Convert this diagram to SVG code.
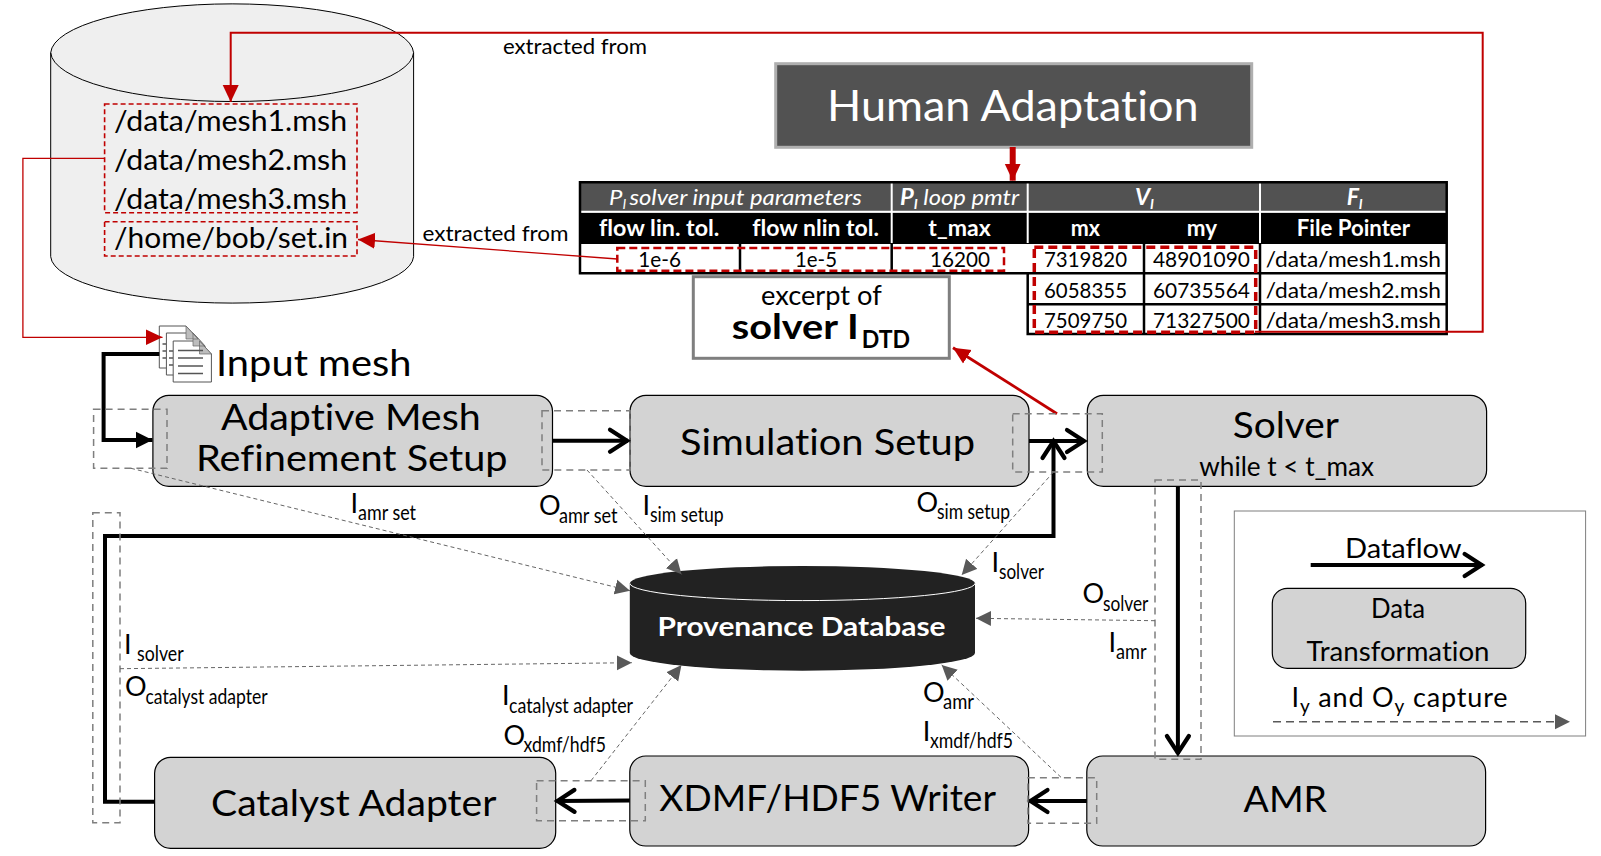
<svg xmlns="http://www.w3.org/2000/svg" width="1601" height="856" viewBox="0 0 1601 856">
<style>
text{font-family:"Lato","Liberation Sans",sans-serif;fill:#000;font-variant-ligatures:none}
.w{fill:#fff}
.b{font-weight:700}
.i{font-style:italic}
.node{fill:#d3d3d3;stroke:#000;stroke-width:1.2}
.cap{fill:none;stroke:#7f7f7f;stroke-width:1.5;stroke-dasharray:7 5}
.red{fill:none;stroke:#c00000}
.flow{fill:none;stroke:#000;stroke-width:4}
.prov{fill:none;stroke:#666;stroke-width:1;stroke-dasharray:4 3}
.hd{fill:none;stroke:#000;stroke-width:2.5}
.wl{stroke:#fff;stroke-width:2;fill:none}
.s{font-size:21px}
.o{font-size:27px}
.m{font-size:28px}
.l{font-size:36px}
.t{font-size:22px}
.page{fill:#fff;stroke:#555;stroke-width:1}
</style>
<defs>
<marker id="ah" markerUnits="userSpaceOnUse" markerWidth="16" markerHeight="16" refX="15" refY="8" orient="auto"><path d="M0 0.5L15 8L0 15.500Z" fill="#595959"/></marker>
<marker id="ar" markerUnits="userSpaceOnUse" markerWidth="18" markerHeight="18" refX="17" refY="9" orient="auto"><path d="M0 1L17 9L0 17Z" fill="#c00000"/></marker>
<marker id="ak" markerUnits="userSpaceOnUse" markerWidth="20" markerHeight="20" refX="17" refY="10" orient="auto"><path d="M0 1.500L17 10L0 18.500Z" fill="#000"/></marker>
<marker id="ao" markerUnits="userSpaceOnUse" markerWidth="26" markerHeight="30" refX="21" refY="15" orient="auto"><path d="M3 4L20 15L3 26" fill="none" stroke="#000" stroke-width="4.200" stroke-linecap="round"/></marker>
</defs>

<g id="file-store">
<path d="M50.700 52.700A181.500 50 0 0 1 413.600 52.700V256.700A181.500 47.500 0 0 1 50.700 256.700Z" fill="#efefef" stroke="#000" stroke-width="1"/>
<path d="M50.700 52.700A181.500 50 0 0 0 413.600 52.700" fill="none" stroke="#000" stroke-width="1"/>
<rect x="104.600" y="104" width="252.400" height="108.700" fill="none" stroke="#c00000" stroke-width="1.600" stroke-dasharray="5 3"/>
<rect x="104.600" y="221.700" width="252.400" height="34.300" fill="none" stroke="#c00000" stroke-width="1.600" stroke-dasharray="5 3"/>
<text class="m" x="114" y="131" textLength="233" lengthAdjust="spacingAndGlyphs">/data/mesh1.msh</text>
<text class="m" x="114" y="170" textLength="233" lengthAdjust="spacingAndGlyphs">/data/mesh2.msh</text>
<text class="m" x="114" y="209" textLength="233" lengthAdjust="spacingAndGlyphs">/data/mesh3.msh</text>
<text class="m" x="114" y="248" textLength="234" lengthAdjust="spacingAndGlyphs">/home/bob/set.in</text>
</g>

<g id="input-mesh">
<path class="page" d="M159.300 326H186L198 339V368H159.300Z"/>
<path class="page" d="M166.400 333H193L205 346V375H166.400Z"/>
<path class="page" d="M173.200 341H199.500L211.400 354V382H173.200Z"/>
<path d="M186 326L198 339H186ZM193 333L205 346H193ZM199.500 341L211.400 354H199.500Z" fill="#bdbdbd" stroke="#666" stroke-width=".7"/>
<path d="M178 350.500H203M178 358H203M178 366H203M178 373.500H203M162.500 344H166M162.500 351H166M162.500 358H166M169 351H173M169 358H173M169 365H173" stroke="#555" stroke-width="1.300" fill="none"/>
<text class="l" x="216" y="375.500" textLength="195.400" lengthAdjust="spacingAndGlyphs">Input mesh</text>
</g>

<g id="human-adaptation">
<rect x="775.700" y="63.700" width="476" height="83.600" fill="#525252" stroke="#afafaf" stroke-width="3"/>
<text class="w" style="font-size:43px" x="827" y="120.500" textLength="371.600" lengthAdjust="spacingAndGlyphs">Human Adaptation</text>
</g>

<g id="solver-table">
<rect x="580" y="182.300" width="866.700" height="29" fill="#525252"/>
<rect x="580" y="212.500" width="866.700" height="31.500" fill="#000"/>
<path class="wl" d="M580 211.800H1446.700M891.700 183V243M1027.700 183V243M1260 183V243"/>
<path class="hd" d="M580 182.300H1446.700V334H1027.700V273.300H580ZM740 244V273.300M891.700 244V273.300M1144 244V334M1260 244V334M1027.700 273.300H1446.700M1027.700 304.300H1446.700"/>
<text class="w i t" x="609" y="205" textLength="252.700" lengthAdjust="spacingAndGlyphs">P<tspan dy="4" font-size="13">I </tspan><tspan dy="-4">solver input parameters</tspan></text>
<text class="w i t" x="900" y="205" textLength="119" lengthAdjust="spacingAndGlyphs"><tspan class="b">P</tspan><tspan dy="4" font-size="13" class="b">I</tspan><tspan dy="-4"> loop pmtr</tspan></text>
<text class="w i b t" x="1135" y="205" textLength="19" lengthAdjust="spacingAndGlyphs">V<tspan dy="4" font-size="13">I</tspan></text>
<text class="w i b t" x="1346.700" y="205" textLength="16" lengthAdjust="spacingAndGlyphs">F<tspan dy="4" font-size="13">I</tspan></text>
<text class="w b t" x="599" y="235.700" textLength="120.300" lengthAdjust="spacingAndGlyphs">flow lin. tol.</text>
<text class="w b t" x="752.300" y="235.700" textLength="126.700" lengthAdjust="spacingAndGlyphs">flow nlin tol.</text>
<text class="w b t" x="928.300" y="235.700" textLength="62.400" lengthAdjust="spacingAndGlyphs">t_max</text>
<text class="w b t" x="1070.700" y="235.700" textLength="29.300" lengthAdjust="spacingAndGlyphs">mx</text>
<text class="w b t" x="1186.700" y="235.700" textLength="30.300" lengthAdjust="spacingAndGlyphs">my</text>
<text class="w b t" x="1296.700" y="235.700" textLength="113.300" lengthAdjust="spacingAndGlyphs">File Pointer</text>
<text class="t" x="638.300" y="266.700" textLength="42.700" lengthAdjust="spacingAndGlyphs">1e-6</text>
<text class="t" x="795" y="266.700" textLength="42" lengthAdjust="spacingAndGlyphs">1e-5</text>
<text class="t" x="930" y="266.700" textLength="60" lengthAdjust="spacingAndGlyphs">16200</text>
<text class="t" x="1044" y="266.700" textLength="83" lengthAdjust="spacingAndGlyphs">7319820</text>
<text class="t" x="1153" y="266.700" textLength="97" lengthAdjust="spacingAndGlyphs">48901090</text>
<text class="t" x="1265.700" y="266.700" textLength="175.300" lengthAdjust="spacingAndGlyphs">/data/mesh1.msh</text>
<text class="t" x="1044" y="297.700" textLength="83" lengthAdjust="spacingAndGlyphs">6058355</text>
<text class="t" x="1153" y="297.700" textLength="97" lengthAdjust="spacingAndGlyphs">60735564</text>
<text class="t" x="1265.700" y="297.700" textLength="175.300" lengthAdjust="spacingAndGlyphs">/data/mesh2.msh</text>
<text class="t" x="1044" y="327.700" textLength="83" lengthAdjust="spacingAndGlyphs">7509750</text>
<text class="t" x="1153" y="327.700" textLength="97" lengthAdjust="spacingAndGlyphs">71327500</text>
<text class="t" x="1265.700" y="327.700" textLength="175.300" lengthAdjust="spacingAndGlyphs">/data/mesh3.msh</text>
<rect x="617.300" y="248" width="386.700" height="22.700" fill="none" stroke="#c00000" stroke-width="2.500" stroke-dasharray="8 4"/>
<rect x="1034.300" y="247.300" width="221.400" height="85" fill="none" stroke="#c00000" stroke-width="3.500" stroke-dasharray="9 5"/>
</g>

<g id="excerpt">
<rect x="693.300" y="276.700" width="256" height="81.600" fill="#fff" stroke="#7f7f7f" stroke-width="3"/>
<text style="font-size:26px" x="761" y="304.500" textLength="120.700" lengthAdjust="spacingAndGlyphs">excerpt of</text>
<text class="b" style="font-size:35px" x="731.700" y="338.500" textLength="127" lengthAdjust="spacingAndGlyphs">solver I</text>
<text class="b" style="font-size:25px" x="861.700" y="348" textLength="48.300" lengthAdjust="spacingAndGlyphs">DTD</text>
</g>

<g id="amr-setup">
<rect class="node" x="152.900" y="395.300" width="399.600" height="91" rx="16"/>
<text class="l" x="221" y="430" textLength="259.700" lengthAdjust="spacingAndGlyphs">Adaptive Mesh</text>
<text class="l" x="196" y="471" textLength="311.500" lengthAdjust="spacingAndGlyphs">Refinement Setup</text>
</g>
<g id="simulation-setup">
<rect class="node" x="630" y="395.300" width="399" height="91" rx="16"/>
<text class="l" x="680" y="454.500" textLength="295" lengthAdjust="spacingAndGlyphs">Simulation Setup</text>
</g>
<g id="solver">
<rect class="node" x="1087.300" y="395.300" width="399.300" height="91" rx="16"/>
<text class="l" x="1232.700" y="437.700" textLength="106.300" lengthAdjust="spacingAndGlyphs">Solver</text>
<text style="font-size:26px" x="1199.300" y="476" textLength="174.700" lengthAdjust="spacingAndGlyphs">while t &lt; t_max</text>
</g>
<g id="catalyst-adapter">
<rect class="node" x="154.600" y="757.300" width="401.100" height="91" rx="16"/>
<text class="l" x="211" y="816" textLength="285.400" lengthAdjust="spacingAndGlyphs">Catalyst Adapter</text>
</g>
<g id="xdmf-writer">
<rect class="node" x="629.800" y="756" width="398.800" height="90" rx="16"/>
<text class="l" x="659.300" y="811" textLength="336.700" lengthAdjust="spacingAndGlyphs">XDMF/HDF5 Writer</text>
</g>
<g id="amr">
<rect class="node" x="1086.800" y="756" width="398.800" height="90" rx="16"/>
<text class="l" x="1243.600" y="812" textLength="83.400" lengthAdjust="spacingAndGlyphs">AMR</text>
</g>

<g id="provenance-db">
<path d="M629.800 583.300A172.600 17.300 0 0 1 975 583.300V653A172.600 17.700 0 0 1 629.800 653Z" fill="#222"/>
<path d="M629.800 583.300A172.600 17.300 0 0 0 975 583.300" fill="none" stroke="#fff" stroke-width="1"/>
<text class="w b" style="font-size:27px" x="657.400" y="636" textLength="288.200" lengthAdjust="spacingAndGlyphs">Provenance Database</text>
</g>

<g id="connectors">
<path class="red" stroke-width="2" d="M1255 331.700H1482.700V32.700H230.700V102" marker-end="url(#ar)"/>
<path class="red" stroke-width="1.300" d="M617.300 259L358 239.500" marker-end="url(#ar)"/>
<path class="red" stroke-width="1.300" d="M104.600 158.300H22.900V337.300H162.500" marker-end="url(#ar)"/>
<path class="red" stroke-width="6" d="M1012.700 147V180.700" marker-end="url(#ar)"/>
<path class="red" stroke-width="2.800" d="M1057 413.700L953 347.700" marker-end="url(#ar)"/>

<path class="flow" d="M159.300 354H103.600V440H152.500" marker-end="url(#ak)"/>
<path class="flow" d="M552.500 440.700H628" marker-end="url(#ao)"/>
<path class="flow" d="M1029 441H1085" marker-end="url(#ao)"/>
<path class="flow" d="M154.600 801.700H105V536H1053.500V440" marker-end="url(#ao)"/>
<path class="flow" d="M1177.900 486.300V754" marker-end="url(#ao)"/>
<path class="flow" d="M1086.800 801H1029.500" marker-end="url(#ao)"/>
<path class="flow" d="M629.800 800.500L556.500 801" marker-end="url(#ao)"/>

<rect class="cap" x="93.600" y="409.300" width="73.400" height="59"/>
<rect class="cap" x="542" y="410.700" width="88" height="59.300"/>
<rect class="cap" x="1012.700" y="413.700" width="89.600" height="58.300"/>
<rect class="cap" x="92.800" y="512.700" width="27.200" height="310"/>
<rect class="cap" x="1155" y="480" width="46" height="279.300"/>
<rect class="cap" x="1027.900" y="777.700" width="68.800" height="45.600"/>
<rect class="cap" x="536.600" y="780.700" width="108.700" height="40"/>

<path class="prov" d="M131 468.300L630 590.700" marker-end="url(#ah)"/>
<path class="prov" d="M587 470L681.500 574.300" marker-end="url(#ah)"/>
<path class="prov" d="M1053.500 472L961.700 575" marker-end="url(#ah)"/>
<path class="prov" d="M1155 620.700L976 618.300" marker-end="url(#ah)"/>
<path class="prov" d="M1061 777.300L941.700 665" marker-end="url(#ah)"/>
<path class="prov" d="M591 780.700L681.500 665" marker-end="url(#ah)"/>
<path class="prov" d="M120 668.700L631.800 662.700" marker-end="url(#ah)"/>
</g>

<g id="labels">
<text class="s" x="503" y="54" textLength="144" lengthAdjust="spacingAndGlyphs">extracted from</text>
<text class="s" x="422.500" y="241" textLength="146" lengthAdjust="spacingAndGlyphs">extracted from</text>
<text class="o" x="350.500" y="512.700">I</text><text class="s" x="358" y="520" textLength="58" lengthAdjust="spacingAndGlyphs">amr set</text>
<text class="o" x="539" y="515">O</text><text class="s" x="559" y="522.700" textLength="58.500" lengthAdjust="spacingAndGlyphs">amr set</text>
<text class="o" x="642.500" y="515">I</text><text class="s" x="650" y="522" textLength="73.600" lengthAdjust="spacingAndGlyphs">sim setup</text>
<text class="o" x="916.500" y="511.700">O</text><text class="s" x="937" y="519" textLength="73" lengthAdjust="spacingAndGlyphs">sim setup</text>
<text class="o" x="991.500" y="571.700">I</text><text class="s" x="999" y="578.700" textLength="45" lengthAdjust="spacingAndGlyphs">solver</text>
<text class="o" x="1082.500" y="603.300">O</text><text class="s" x="1103" y="611" textLength="45.400" lengthAdjust="spacingAndGlyphs">solver</text>
<text class="o" x="1108.500" y="651.700">I</text><text class="s" x="1116" y="659" textLength="30.500" lengthAdjust="spacingAndGlyphs">amr</text>
<text class="o" x="923" y="702.300">O</text><text class="s" x="943" y="709.300" textLength="31" lengthAdjust="spacingAndGlyphs">amr</text>
<text class="o" x="922.800" y="740.700">I</text><text class="s" x="930" y="748.300" textLength="83" lengthAdjust="spacingAndGlyphs">xmdf/hdf5</text>
<text class="o" x="124" y="654">I</text><text class="s" x="137" y="660.700" textLength="46.600" lengthAdjust="spacingAndGlyphs">solver</text>
<text class="o" x="125" y="696">O</text><text class="s" x="145.500" y="704" textLength="122" lengthAdjust="spacingAndGlyphs">catalyst adapter</text>
<text class="o" x="502" y="705">I</text><text class="s" x="509" y="712.700" textLength="124" lengthAdjust="spacingAndGlyphs">catalyst adapter</text>
<text class="o" x="503.500" y="745">O</text><text class="s" x="523.500" y="751.700" textLength="82.500" lengthAdjust="spacingAndGlyphs">xdmf/hdf5</text>
</g>

<g id="legend">
<rect x="1234.300" y="511" width="351.300" height="225" fill="none" stroke="#7f7f7f" stroke-width="1"/>
<text class="o" x="1345" y="558.300" textLength="116.700" lengthAdjust="spacingAndGlyphs">Dataflow</text>
<path class="flow" d="M1310.700 565H1482.700" marker-end="url(#ao)"/>
<rect class="node" x="1272.300" y="588.300" width="253.400" height="80" rx="15"/>
<text class="o" x="1371" y="618" textLength="54" lengthAdjust="spacingAndGlyphs">Data</text>
<text class="o" x="1306.500" y="660.500" textLength="183" lengthAdjust="spacingAndGlyphs">Transformation</text>
<text class="o" x="1291.500" y="707" textLength="216" lengthAdjust="spacing">I<tspan dy="6" font-size="19">y</tspan><tspan dy="-6"> and O</tspan><tspan dy="6" font-size="19">y</tspan><tspan dy="-6"> capture</tspan></text>
<path d="M1273 721.700H1570" fill="none" stroke="#595959" stroke-width="1.500" stroke-dasharray="8 5" marker-end="url(#ah)"/>
</g>
</svg>
